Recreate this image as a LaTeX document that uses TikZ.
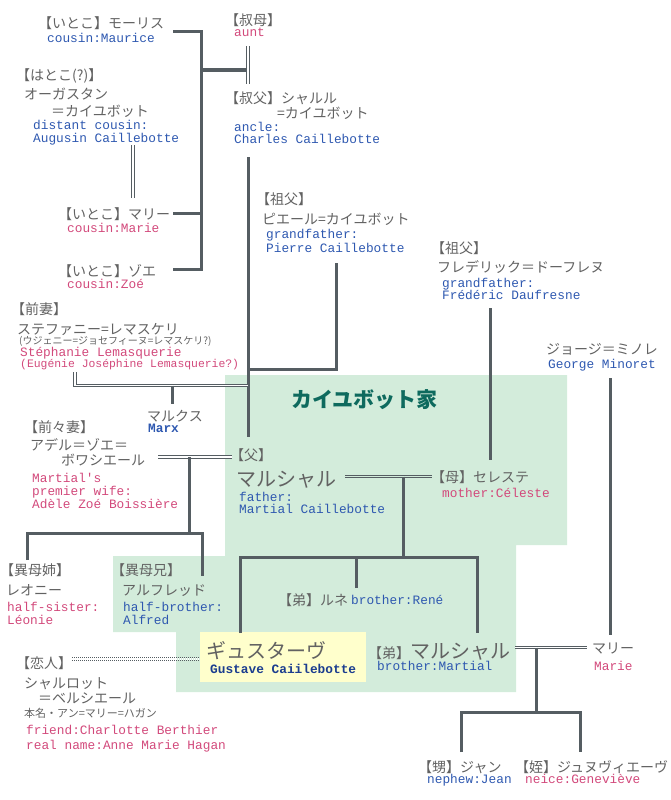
\documentclass[tikz,border=0pt]{standalone}
\usepackage{fontspec}
\usepackage{tikz}
\newfontfamily\jpfont{Noto Sans CJK JP}
\newfontfamily\enfont{Liberation Mono}
\definecolor{linegray}{HTML}{555D62}
\definecolor{jpgray}{HTML}{626262}
\definecolor{enblue}{HTML}{2E58B0}
\definecolor{enpink}{HTML}{D2497B}
\definecolor{gustavenavy}{HTML}{1B3D8F}
\definecolor{familyteal}{HTML}{0E6A5E}
\definecolor{familygreen}{HTML}{D3ECDB}
\definecolor{gustaveyellow}{HTML}{FFFFCC}

\begin{document}
\begin{tikzpicture}[x=1pt,y=-1pt,line join=miter,
    jp/.style={anchor=base west,inner sep=0pt,text=jpgray,font=\jpfont\fontsize{14}{17}\selectfont},
    jpsmall/.style={jp,font=\jpfont\fontsize{10}{11}\selectfont},
    jpname/.style={jp,font=\jpfont\fontsize{11}{13}\selectfont},
    jpbig/.style={jp,font=\jpfont\fontsize{20}{24}\selectfont},
    en/.style={anchor=base west,inner sep=0pt,text=enblue,font=\enfont\fontsize{12.8}{13}\selectfont},
    pk/.style={en,text=enpink},
    kin/.style={draw=linegray,line width=3pt},
    marriage/.style={draw=linegray,line width=1pt,double=white,double distance=1.5pt},
    lover/.style={draw=linegray,line width=1pt,double=white,double distance=1.2pt,dash pattern=on 1pt off 1pt}]

    \useasboundingbox (0,0) rectangle (670,800);

    % Family area
    \fill[familygreen] (225,375) -- (567,375) -- (567,545) -- (516,545) -- (516,692)
      -- (176,692) -- (176,632) -- (113,632) -- (113,556) -- (225,556) -- cycle;
    \fill[gustaveyellow] (200,632) rectangle (366,682);

    % Nodes
    \node[jp] (maurice) at (38,29) {【いとこ】モーリス};
    \node[en] (maurice-en) at (47,42.5) {cousin:Maurice};
    \node[jp] (augustin-rel) at (16,81) {【はとこ(?)】};
    \node[jp] (augustin) at (24,99) {オーガスタン};
    \node[jp] (augustin-2) at (51,116) {＝カイユボット};
    \node[en] (augustin-en) at (33,129) {distant cousin:};
    \node[en] (augustin-en2) at (33,142) {Augusin Caillebotte};
    \node[jp] (marie-c) at (58,219) {【いとこ】マリー};
    \node[pk] (marie-c-en) at (67,232) {cousin:Marie};
    \node[jp] (zoe) at (58,276) {【いとこ】ゾエ};
    \node[pk] (zoe-en) at (67,288) {cousin:Zoé};

    \node[jp] (aunt) at (225,26) {【叔母】};
    \node[pk] (aunt-en) at (234,37) {aunt};
    \node[jp] (charles) at (225,103) {【叔父】シャルル};
    \node[jp] (charles-2) at (277,118) {=カイユボット};
    \node[en] (charles-en) at (234,131) {ancle:};
    \node[en] (charles-en2) at (234,143) {Charles Caillebotte};

    \node[jp] (pierre-rel) at (256,204) {【祖父】};
    \node[jp] (pierre) at (262,224) {ピエール=カイユボット};
    \node[en] (pierre-en) at (266,238) {grandfather:};
    \node[en] (pierre-en2) at (266,252) {Pierre Caillebotte};
    \node[jp] (frederic-rel) at (431,253) {【祖父】};
    \node[jp] (frederic) at (437,272) {フレデリック＝ドーフレヌ};
    \node[en] (frederic-en) at (442,287) {grandfather:};
    \node[en] (frederic-en2) at (442,299) {Frédéric Daufresne};
    \node[jp] (george) at (546,354) {ジョージ＝ミノレ};
    \node[en] (george-en) at (548,368) {George Minoret};

    \node[jp] (stephanie-rel) at (11,314) {【前妻】};
    \node[jp] (stephanie) at (17,334) {ステファニー=レマスケリ};
    \node[jpsmall] (stephanie-2) at (19,344.5) {(ウジェニー=ジョセフィーヌ=レマスケリ?)};
    \node[pk] (stephanie-en) at (20,356.5) {Stéphanie Lemasquerie};
    \node[pk,font=\enfont\fontsize{11.4}{12}\selectfont] (stephanie-en2) at (20,367.5) {(Eugénie Joséphine Lemasquerie?)};
    \node[jp] (marx) at (147,421) {マルクス};
    \node[en,font=\enfont\bfseries\fontsize{12.8}{13}\selectfont] (marx-en) at (148,432) {Marx};

    \node[jp] (adele-rel) at (24,432) {【前々妻】};
    \node[jp] (adele) at (30,450) {アデル＝ゾエ＝};
    \node[jp] (adele-2) at (61,465) {ボワシエール};
    \node[pk] (adele-en) at (32,482) {Martial's};
    \node[pk] (adele-en2) at (32,495) {premier wife:};
    \node[pk] (adele-en3) at (32,508) {Adèle Zoé Boissière};

    \node[text=familyteal,anchor=base west,inner sep=0pt,font=\jpfont\bfseries\fontsize{21}{24}\selectfont] (family) at (291,407) {カイユボット家};

    \node[jp] (father-rel) at (230,460) {【父】};
    \node[jpbig] (father) at (236,486) {マルシャル};
    \node[en] (father-en) at (239,501) {father:};
    \node[en] (father-en2) at (239,513) {Martial Caillebotte};
    \node[jp] (mother) at (431,482) {【母】セレステ};
    \node[pk] (mother-en) at (442,497) {mother:Céleste};

    \node[jp] (leonie-rel) at (0,575) {【異母姉】};
    \node[jp] (leonie) at (6,595) {レオニー};
    \node[pk] (leonie-en) at (7,611) {half-sister:};
    \node[pk] (leonie-en2) at (7,624) {Léonie};
    \node[jp] (alfred-rel) at (111,575) {【異母兄】};
    \node[jp] (alfred) at (122,595) {アルフレッド};
    \node[en] (alfred-en) at (123,611) {half-brother:};
    \node[en] (alfred-en2) at (123,624) {Alfred};

    \node[jp] (rene) at (278,605) {【弟】ルネ};
    \node[en] (rene-en) at (351,604) {brother:René};
    \node[jpbig] (gustave) at (206,658) {ギュスターヴ};
    \node[en,text=gustavenavy,font=\enfont\bfseries\fontsize{12.8}{13}\selectfont] (gustave-en) at (210,673) {Gustave Caiilebotte};
    \node[jp] (martial-b) at (368,658) {【弟】{\fontsize{20}{24}\selectfont マルシャル}};
    \node[en] (martial-b-en) at (377,670) {brother:Martial};
    \node[jp] (marie) at (592,653) {マリー};
    \node[pk] (marie-en) at (594,670) {Marie};

    \node[jp] (charlotte-rel) at (16,668) {【恋人】};
    \node[jp] (charlotte) at (24,688) {シャルロット};
    \node[jp] (charlotte-2) at (38,703) {＝ベルシエール};
    \node[jpname] (charlotte-3) at (24,717) {本名・アン=マリー=ハガン};
    \node[pk] (charlotte-en) at (26,734) {friend:Charlotte Berthier};
    \node[pk] (charlotte-en2) at (26,749) {real name:Anne Marie Hagan};

    \node[jp] (jean) at (418,772) {【甥】ジャン};
    \node[en] (jean-en) at (427,783) {nephew:Jean};
    \node[jp] (genevieve) at (515,772) {【姪】ジュヌヴィエーヴ};
    \node[pk] (genevieve-en) at (525,783) {neice:Geneviève};

    % Junctions
    \coordinate (maurice-r) at (173,32);
    \coordinate (marie-c-r) at (173,213);
    \coordinate (zoe-r) at (173,269);
    \coordinate (cousin-b) at (201.5,269);
    \coordinate (cousin-k) at (201.5,70);
    \coordinate (aunt-k) at (247,70);
    \coordinate (aunt-b) at (248,46);
    \coordinate (charles-t) at (248,84);
    \coordinate (charles-b) at (248,157);
    \coordinate (father-t) at (248,437);
    \coordinate (augustin-b) at (133,145);
    \coordinate (marie-c-t) at (133,198);
    \coordinate (pierre-b) at (336,263);
    \coordinate (pierre-k) at (248,369);
    \coordinate (frederic-b) at (490,308);
    \coordinate (mother-t) at (490,460);
    \coordinate (george-b) at (610,378);
    \coordinate (marie-t) at (610,635);
    \coordinate (stephanie-b) at (75,372);
    \coordinate (stephanie-k) at (248,385.5);
    \coordinate (marx-t) at (172,404);
    \coordinate (adele-r) at (158,457);
    \coordinate (father-l) at (232,457);
    \coordinate (adele-j) at (189,457);
    \coordinate (adele-k) at (189,533);
    \coordinate (leonie-t) at (27,560);
    \coordinate (alfred-t) at (202,576);
    \coordinate (father-r) at (345,476.5);
    \coordinate (mother-l) at (432,476.5);
    \coordinate (kids-j) at (403,476.5);
    \coordinate (kids-k) at (403,557);
    \coordinate (gustave-t) at (240,633);
    \coordinate (rene-t) at (356,588);
    \coordinate (martial-b-t) at (477,633);
    \coordinate (martial-b-r) at (515,647.5);
    \coordinate (marie-l) at (587,647.5);
    \coordinate (nephew-j) at (536,647.5);
    \coordinate (nephew-k) at (536,712);
    \coordinate (jean-t) at (461,752);
    \coordinate (genevieve-t) at (580,752);
    \coordinate (charlotte-r) at (72,659);
    \coordinate (gustave-l) at (200,659);

    % Paths
    \draw[kin] (maurice-r) -| (cousin-b) -- (zoe-r);
    \draw[kin] (marie-c-r) -- (marie-c-r -| cousin-b);
    \draw[kin] (cousin-k) -- (aunt-k);
    \draw[marriage] (aunt-b) -- (charles-t);
    \draw[marriage] (augustin-b) -- (marie-c-t);
    \draw[kin] (charles-b) -- (father-t);
    \draw[kin] (pierre-b) |- (pierre-k);
    \draw[kin] (frederic-b) -- (mother-t);
    \draw[kin] (george-b) -- (marie-t);
    \draw[marriage] (stephanie-b) |- (stephanie-k);
    \draw[kin] (stephanie-k -| marx-t) -- (marx-t);
    \draw[marriage] (adele-r) -- (father-l);
    \draw[kin] (adele-j) -- (adele-k);
    \draw[kin] (leonie-t) |- (adele-k) -| (alfred-t);
    \draw[marriage,double=familygreen] (father-r) -- (mother-l);
    \draw[kin] (kids-j) -- (kids-k);
    \draw[kin] (gustave-t) |- (kids-k) -| (martial-b-t);
    \draw[kin] (rene-t) -- (rene-t |- kids-k);
    \draw[marriage] (martial-b-r) -- (marie-l);
    \draw[kin] (nephew-j) -- (nephew-k);
    \draw[kin] (jean-t) |- (nephew-k) -| (genevieve-t);
    \draw[lover] (charlotte-r) -- (gustave-l);

\end{tikzpicture}
\end{document}
